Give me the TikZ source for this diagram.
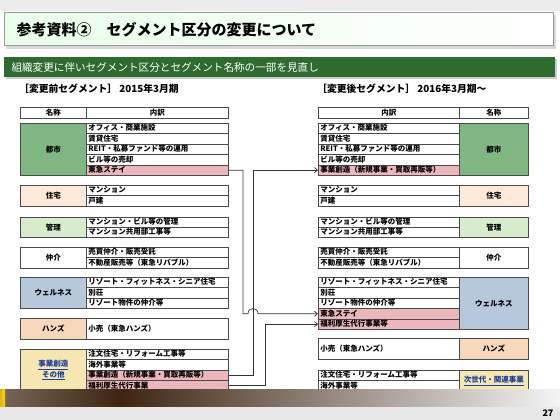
\documentclass[tikz,border=0pt]{standalone}
\usepackage{fontspec}
\setmainfont{Noto Sans CJK JP}
\usetikzlibrary{arrows.meta,positioning}

\definecolor{borde}{HTML}{4A4A4A}
\definecolor{verdeT}{HTML}{80B681}
\definecolor{crema}{HTML}{FCE9DA}
\definecolor{verdeC}{HTML}{D6ECCD}
\definecolor{azul}{HTML}{B8C8DC}
\definecolor{melocoton}{HTML}{F8D8BD}
\definecolor{amarillo}{HTML}{F6E7B2}
\definecolor{rosa}{HTML}{EBB7BB}
\definecolor{barra}{HTML}{2F6B31}
\definecolor{enlace}{HTML}{1F3F9A}
\definecolor{cafe}{HTML}{3E2512}

\newcommand\letra{\bfseries\fontsize{7.5}{8}\selectfont}

\tikzset{
  celda/.style={draw=borde, line width=0.7pt, fill=white, anchor=north west,
    inner xsep=2pt, inner ysep=0pt, minimum height=10.4pt,
    text height=6.2pt, text depth=1.4pt, font=\letra, align=left},
  celdaL/.style={celda, text width=138pt},
  celdaR/.style={celda, text width=137pt},
  nombre/.style={draw=borde, line width=0.7pt, anchor=north west, inner sep=0pt,
    font=\letra, align=center},
  flecha/.style={draw=black!80, line width=0.7pt, -{Straight Barb[length=3pt,width=5pt]}},
}

\begin{document}
\begin{tikzpicture}[x=1pt,y=-1pt]
\useasboundingbox (0,0) rectangle (560,420);

% Fondo y titulo
\fill[white] (0,0) rectangle (560,420);
\fill[black!8] (0,0) rectangle (560,11);
\fill[black!15] (6,15) rectangle (556,49);
\shade[left color=green!9, right color=white, draw=black!40, line width=1pt] (4,13) rectangle (553,46);
\node[anchor=west, font=\bfseries\fontsize{15}{17}\selectfont] (titulo) at (13,30) {参考資料②　セグメント区分の変更について};

% Barra verde
\fill[black!20] (6,59) rectangle (557,79);
\fill[barra] (4,57) rectangle (555,77);
\node[anchor=west, text=white, font=\fontsize{10.6}{12}\selectfont] (subtitulo) at (8,67) {組織変更に伴いセグメント区分とセグメント名称の一部を見直し};

% Encabezados
\node[anchor=west, inner sep=0pt, font=\bfseries\fontsize{9.8}{11}\selectfont] (antes) at (19,89) {［変更前セグメント］ 2015年3月期};
\node[anchor=west, inner sep=0pt, font=\bfseries\fontsize{9.8}{11}\selectfont] (despues) at (317,89) {［変更後セグメント］ 2016年3月期～};

% Tabla izquierda
\node[nombre, minimum width=66pt, minimum height=11pt] (Lnom) at (20,107) {名称};
\node[nombre, minimum width=142pt, minimum height=11pt] (Lint) at (86,107) {内訳};

\node[nombre, fill=verdeT, minimum width=66pt, minimum height=52pt] (Ltoshi) at (20,123) {都市};
\node[celdaL] (L1a) at (86,123) {オフィス・商業施設};
\node[celdaL] (L1b) at (86,133.4) {賃貸住宅};
\node[celdaL] (L1c) at (86,143.8) {REIT・私募ファンド等の運用};
\node[celdaL] (L1d) at (86,154.2) {ビル等の売却};
\node[celdaL, fill=rosa] (Lstay) at (86,164.6) {東急ステイ};

\node[nombre, fill=crema, minimum width=66pt, minimum height=20.8pt] (Ljutaku) at (20,185) {住宅};
\node[celdaL] (L2a) at (86,185) {マンション};
\node[celdaL] (L2b) at (86,195.4) {戸建};

\node[nombre, fill=verdeC, minimum width=66pt, minimum height=20.8pt] (Lkanri) at (20,216.5) {管理};
\node[celdaL] (L3a) at (86,216.5) {マンション・ビル等の管理};
\node[celdaL] (L3b) at (86,226.9) {マンション共用部工事等};

\node[nombre, fill=white, minimum width=66pt, minimum height=20.8pt] (Lchukai) at (20,247) {仲介};
\node[celdaL] (L4a) at (86,247) {売買仲介・販売受託};
\node[celdaL] (L4b) at (86,257.4) {不動産販売等（東急リバブル）};

\node[nombre, fill=azul, minimum width=66pt, minimum height=31.2pt] (Lwell) at (20,277) {ウェルネス};
\node[celdaL] (L5a) at (86,277) {リゾート・フィットネス・シニア住宅};
\node[celdaL] (L5b) at (86,287.4) {別荘};
\node[celdaL] (L5c) at (86,297.8) {リゾート物件の仲介等};

\node[nombre, fill=melocoton, minimum width=66pt, minimum height=21pt] (Lhands) at (20,318) {ハンズ};
\node[celdaL, minimum height=21pt] (L6a) at (86,318) {小売（東急ハンズ）};

\node[nombre, fill=amarillo, text=enlace, minimum width=66pt, minimum height=41.6pt] (Lotros) at (20,349) {\underline{事業創造}\\\underline{その他}};
\node[celdaL] (L7a) at (86,349) {注文住宅・リフォーム工事等};
\node[celdaL] (L7b) at (86,359.4) {海外事業等};
\node[celdaL, fill=rosa] (Lcrea) at (86,369.8) {事業創造（新規事業・買取再販等）};
\node[celdaL, fill=rosa] (Lfuku) at (86,380.2) {福利厚生代行事業};

% Tabla derecha
\node[nombre, minimum width=141pt, minimum height=11pt] (Rint) at (318,107) {内訳};
\node[nombre, minimum width=69pt, minimum height=11pt] (Rnom) at (459,107) {名称};

\node[celdaR] (R1a) at (318,123) {オフィス・商業施設};
\node[celdaR] (R1b) at (318,133.4) {賃貸住宅};
\node[celdaR] (R1c) at (318,143.8) {REIT・私募ファンド等の運用};
\node[celdaR] (R1d) at (318,154.2) {ビル等の売却};
\node[celdaR, fill=rosa] (Rcrea) at (318,164.6) {事業創造（新規事業・買取再販等）};
\node[nombre, fill=verdeT, minimum width=69pt, minimum height=52pt] (Rtoshi) at (459,123) {都市};

\node[celdaR] (R2a) at (318,185) {マンション};
\node[celdaR] (R2b) at (318,195.4) {戸建};
\node[nombre, fill=crema, minimum width=69pt, minimum height=20.8pt] (Rjutaku) at (459,185) {住宅};

\node[celdaR] (R3a) at (318,216.5) {マンション・ビル等の管理};
\node[celdaR] (R3b) at (318,226.9) {マンション共用部工事等};
\node[nombre, fill=verdeC, minimum width=69pt, minimum height=20.8pt] (Rkanri) at (459,216.5) {管理};

\node[celdaR] (R4a) at (318,247) {売買仲介・販売受託};
\node[celdaR] (R4b) at (318,257.4) {不動産販売等（東急リバブル）};
\node[nombre, fill=white, minimum width=69pt, minimum height=20.8pt] (Rchukai) at (459,247) {仲介};

\node[celdaR] (R5a) at (318,277) {リゾート・フィットネス・シニア住宅};
\node[celdaR] (R5b) at (318,287.4) {別荘};
\node[celdaR] (R5c) at (318,297.8) {リゾート物件の仲介等};
\node[celdaR, fill=rosa] (Rstay) at (318,308.2) {東急ステイ};
\node[celdaR, fill=rosa] (Rfuku) at (318,318.6) {福利厚生代行事業等};
\node[nombre, fill=azul, minimum width=69pt, minimum height=52pt] (Rwell) at (459,277) {ウェルネス};

\node[celdaR, minimum height=21pt] (R6a) at (318,338) {小売（東急ハンズ）};
\node[nombre, fill=melocoton, minimum width=69pt, minimum height=21pt] (Rhands) at (459,338) {ハンズ};

\node[celdaR] (R7a) at (318,370) {注文住宅・リフォーム工事等};
\node[celdaR] (R7b) at (318,380.4) {海外事業等};
\node[nombre, fill=amarillo, text=enlace, minimum width=69pt, minimum height=20.8pt] (Rjisedai) at (459,370) {\underline{次世代・関連事業}};

% Flechas
\coordinate (v1) at (243,0);
\coordinate (v2) at (253,0);
\coordinate (v3) at (265,0);
\coordinate (s1) at (248,0);
\coordinate (s2) at (258,0);
\draw[flecha] (Lcrea.east) -- (v2 |- Lcrea.east) -- (v2 |- Rcrea.west) -- (Rcrea.west);
\draw[flecha] (Lstay.east) -- (v1 |- Lstay.east) -- (v1 |- Rstay.west) -- (s1 |- Rstay.west)
  .. controls +(0,-7) and +(0,-7) .. (s2 |- Rstay.west) -- (Rstay.west);
\draw[flecha] (Lfuku.east) -- (v3 |- Lfuku.east) -- (v3 |- Rfuku.west) -- (Rfuku.west);

% Pie de pagina
\fill[black!9] (0,406) rectangle (560,420);
\shade[left color=cafe!70!white, right color=cafe] (0,389) rectangle (120,406);
\shade[left color=cafe, right color=black!4] (120,389) rectangle (560,406);
\shade[left color=yellow!40!brown, right color=yellow!70!orange] (0,389) rectangle (5,406);
\node[anchor=east, font=\bfseries\fontsize{9}{10}\selectfont] (pagina) at (557,413) {27};
\end{tikzpicture}
\end{document}
